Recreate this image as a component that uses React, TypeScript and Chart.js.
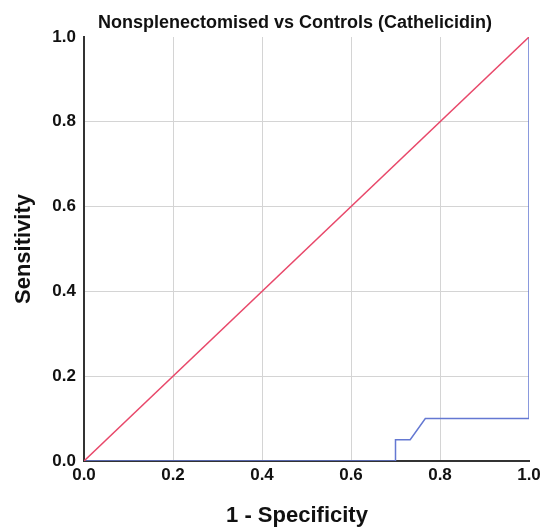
import React, { useEffect, useRef } from "react";
import { Chart, registerables } from "chart.js";

Chart.register(...registerables);

const TITLE = "Nonsplenectomised vs Controls (Cathelicidin)";
const X_TITLE = "1 - Specificity";
const Y_TITLE = "Sensitivity";

const rocX = [0, 0.7, 0.7, 0.733, 0.767, 1.0, 1.0];
const rocY = [0, 0, 0.05, 0.05, 0.1, 0.1, 1.0];
const refX = [0, 1];
const refY = [0, 1];
const tickValues = [0, 0.2, 0.4, 0.6, 0.8, 1.0];

const FAMILY = "Arial, 'Liberation Sans', Helvetica, sans-serif";

const titlePlugin = {
  id: "customTitle",
  afterDraw(chart: any) {
    const ctx = chart.ctx;
    ctx.save();
    ctx.fillStyle = "#111";
    ctx.textAlign = "center";
    ctx.textBaseline = "middle";
    ctx.font = "bold 18px " + FAMILY;
    ctx.fillText(TITLE, 295, 23);
    ctx.font = "bold 22px " + FAMILY;
    ctx.fillText(X_TITLE, 297, 516);
    ctx.restore();
  },
};

export default function App() {
  const ref = useRef<HTMLCanvasElement>(null);
  useEffect(() => {
    const tickFont = { family: FAMILY, size: 17, weight: "bold" as const, lineHeight: 1.0 };
    const axisTitleFont = { family: FAMILY, size: 22, weight: "bold" as const, lineHeight: 1.0 };
    const chart = new Chart(ref.current!, {
      type: "scatter",
      data: {
        datasets: [
          {
            data: refX.map((x, i) => ({ x, y: refY[i] })),
            showLine: true,
            borderColor: "#e8486a",
            borderWidth: 1.5,
            pointRadius: 0,
          },
          {
            data: rocX.map((x, i) => ({ x, y: rocY[i] })),
            showLine: true,
            borderColor: "#6478d2",
            borderWidth: 1.5,
            pointRadius: 0,
          },
        ],
      },
      options: {
        animation: false,
        responsive: false,
        layout: { padding: { top: 37, right: 14, left: 0, bottom: 0 } },
        plugins: { legend: { display: false }, tooltip: { enabled: false }, title: { display: false } },
        scales: {
          x: {
            type: "linear",
            min: 0,
            max: 1,
            afterBuildTicks: (s: any) => { s.ticks = tickValues.map((v) => ({ value: v })); },
            afterFit: (s: any) => { s.height = 66; s.paddingRight = 0; s.paddingLeft = 0; },
            ticks: {
              color: "#111",
              font: tickFont,
              padding: 6,
              callback: (v: any) => Number(v).toFixed(1),
            },
            grid: {
              color: (c: any) => (c.tick && (c.tick.value === 0 || c.tick.value === 1) ? "rgba(0,0,0,0)" : "#d4d4d4"),
              lineWidth: 1,
              drawTicks: false,
            },
            border: { color: "#333", width: 2 },
            title: { display: false, text: X_TITLE },
          },
          y: {
            type: "linear",
            min: 0,
            max: 1,
            afterBuildTicks: (s: any) => { s.ticks = tickValues.map((v) => ({ value: v })); },
            afterFit: (s: any) => { s.width = 84; s.paddingTop = 0; s.paddingBottom = 0; },
            ticks: {
              color: "#111",
              font: tickFont,
              padding: 8,
              callback: (v: any) => Number(v).toFixed(1),
            },
            grid: {
              color: (c: any) => (c.tick && (c.tick.value === 0 || c.tick.value === 1) ? "rgba(0,0,0,0)" : "#d4d4d4"),
              lineWidth: 1,
              drawTicks: false,
            },
            border: { color: "#333", width: 2 },
            title: { display: true, text: Y_TITLE, color: "#111", font: axisTitleFont, padding: { top: 13, bottom: 0 } },
          },
        },
      },
      plugins: [titlePlugin],
    });
    return () => chart.destroy();
  }, []);
  return (
    <div style={{ position: "fixed", left: 0, top: 0, width: 543, height: 527, background: "#fff" }}>
      <canvas ref={ref} width={543} height={527} />
    </div>
  );
}
